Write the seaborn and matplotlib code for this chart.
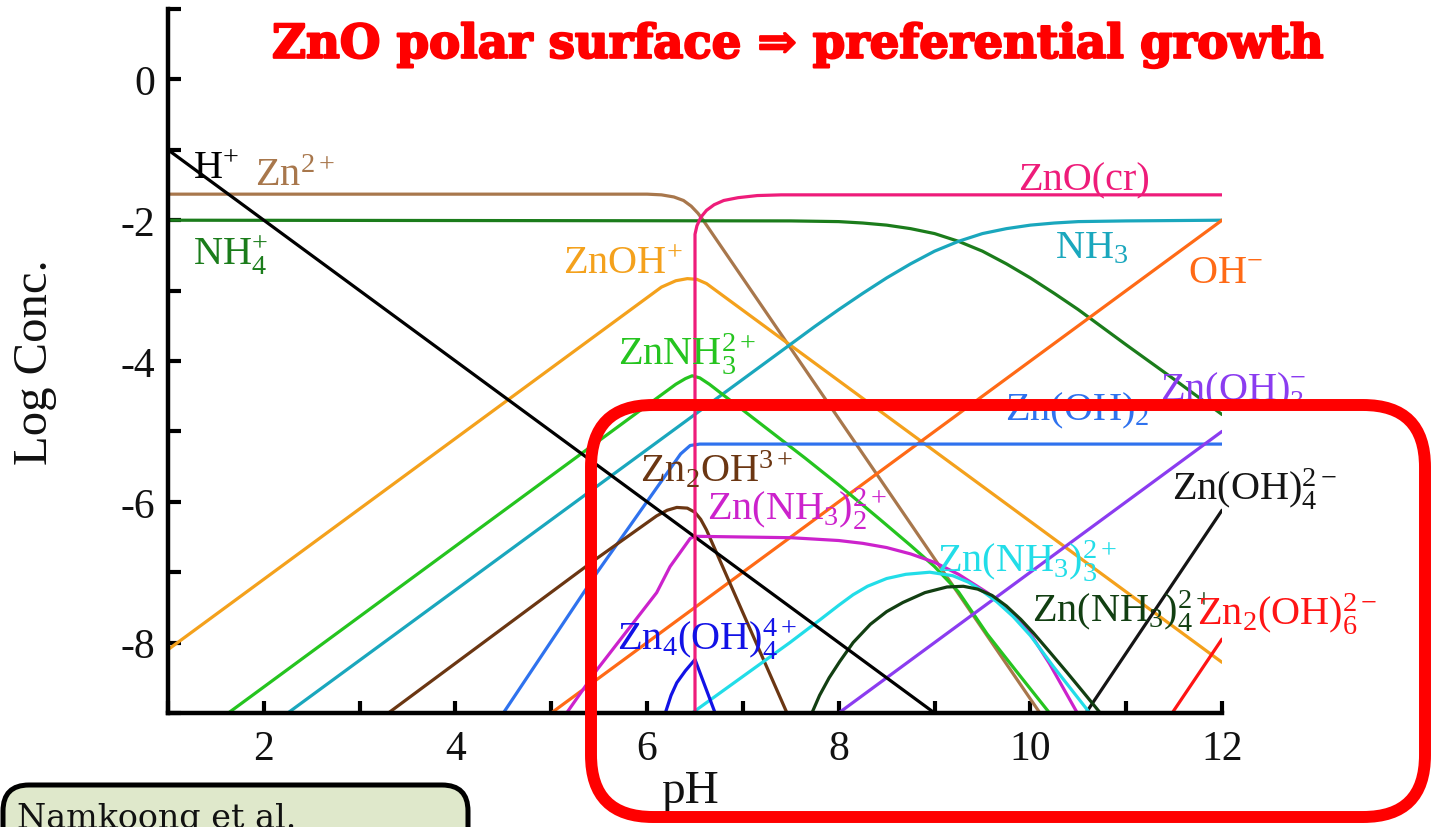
import numpy as np
import pandas as pd
import matplotlib
matplotlib.use("Agg")
import matplotlib.pyplot as plt
import matplotlib.patheffects as pe
import seaborn as sns
from matplotlib.patches import FancyBboxPatch
from matplotlib.transforms import IdentityTransform

# ---------------- data ----------------
ph_H = [1.0, 9.0]
lc_H = [-1.0, -9.0]
ph_Zn = [1.0, 6.0, 6.15, 6.28, 6.38, 6.46, 6.53, 6.58, 10.1]
lc_Zn = [-1.63, -1.63, -1.64, -1.67, -1.72, -1.80, -1.90, -1.99, -9.0]
ph_NH4 = [1.0, 7.5, 8.0, 8.25, 8.5, 8.75, 9.0, 9.25, 9.5, 9.75, 10.0, 10.25, 10.5, 11.0, 11.5, 12.0]
lc_NH4 = [-2.0, -2.01, -2.02, -2.04, -2.07, -2.12, -2.19, -2.30, -2.44, -2.62, -2.82, -3.04, -3.27, -3.77, -4.26, -4.76]
ph_NH3 = [2.25, 7.5, 7.75, 8.0, 8.25, 8.5, 8.75, 9.0, 9.25, 9.5, 9.75, 10.0, 10.25, 10.5, 11.0, 12.0]
lc_NH3 = [-9.0, -3.76, -3.51, -3.27, -3.04, -2.82, -2.62, -2.44, -2.30, -2.19, -2.12, -2.07, -2.04, -2.02, -2.01, -2.0]
ph_OH = [5.0, 12.0]
lc_OH = [-9.0, -2.0]
ph_ZnO = [6.5, 6.5, 6.52, 6.56, 6.62, 6.7, 6.8, 6.95, 7.15, 7.4, 12.0]
lc_ZnO = [-9.0, -2.2, -2.08, -1.96, -1.86, -1.78, -1.72, -1.68, -1.65, -1.64, -1.64]
ph_ZnOH = [1.0, 6.15, 6.3, 6.42, 6.52, 6.62, 6.7, 12.0]
lc_ZnOH = [-8.1, -2.95, -2.86, -2.83, -2.84, -2.9, -2.98, -8.28]
ph_ZnNH3 = [1.63, 6.3, 6.4, 6.47, 6.55, 6.65, 7.65, 8.0, 8.43, 8.75, 9.0, 9.25, 9.55, 9.85, 10.2]
lc_ZnNH3 = [-9.0, -4.33, -4.25, -4.21, -4.24, -4.33, -5.38, -5.76, -6.25, -6.62, -6.92, -7.28, -7.88, -8.4, -9.0]
ph_ZnOH2 = [4.5, 5.48, 6.35, 6.45, 6.55, 12.0]
lc_ZnOH2 = [-9.0, -7.0, -5.32, -5.2, -5.18, -5.18]
ph_ZnOH3 = [8.0, 12.0]
lc_ZnOH3 = [-9.0, -5.0]
ph_ZnOH4 = [10.58, 12.0]
lc_ZnOH4 = [-9.0, -6.12]
ph_Zn2OH6 = [11.48, 12.0]
lc_Zn2OH6 = [-9.0, -7.95]
ph_Zn4OH4 = [6.19, 6.25, 6.31, 6.4, 6.5, 6.71]
lc_Zn4OH4 = [-9.0, -8.75, -8.57, -8.4, -8.24, -9.0]
ph_Zn2OH = [3.3, 5.48, 6.1, 6.21, 6.31, 6.42, 6.5, 6.56, 6.62, 7.46]
lc_Zn2OH = [-9.0, -6.8, -6.2, -6.12, -6.08, -6.09, -6.15, -6.25, -6.4, -9.0]
ph_ZnNH3_2 = [5.16, 5.48, 6.1, 6.24, 6.45, 6.5, 7.5, 8.0, 8.25, 8.5, 8.75, 9.0, 9.25, 9.55, 9.75, 9.97, 10.2, 10.49]
lc_ZnNH3_2 = [-9.0, -8.38, -7.29, -6.92, -6.52, -6.49, -6.51, -6.55, -6.59, -6.65, -6.74, -6.86, -7.03, -7.29, -7.52, -7.81, -8.3, -9.0]
ph_ZnNH3_3 = [6.47, 7.49, 7.81, 8.0, 8.15, 8.3, 8.5, 8.7, 8.95, 9.19, 9.35, 9.47, 9.65, 9.82, 10.0, 10.24, 10.62]
lc_ZnNH3_3 = [-9.0, -8.0, -7.67, -7.47, -7.32, -7.2, -7.09, -7.03, -7.0, -7.05, -7.14, -7.24, -7.42, -7.63, -7.9, -8.34, -9.0]
ph_ZnNH3_4 = [7.72, 7.8, 7.9, 8.01, 8.15, 8.33, 8.5, 8.67, 8.9, 9.13, 9.3, 9.45, 9.6, 9.75, 9.9, 10.03, 10.2, 10.38, 10.55, 10.73]
lc_ZnNH3_4 = [-9.0, -8.75, -8.5, -8.27, -8.0, -7.74, -7.56, -7.43, -7.29, -7.21, -7.2, -7.24, -7.33, -7.48, -7.67, -7.86, -8.13, -8.42, -8.7, -9.0]

x_ticks = list(range(1, 13))
x_tick_labels = ["", "2", "", "4", "", "6", "", "8", "", "10", "", "12"]
y_ticks = list(range(-9, 2))
y_tick_labels = ["", "-8", "", "-6", "", "-4", "", "-2", "", "0", ""]

species = [
    ("Zn2+", ph_Zn, lc_Zn, "#a8774c"),
    ("NH4+", ph_NH4, lc_NH4, "#1b7c1b"),
    ("ZnOH+", ph_ZnOH, lc_ZnOH, "#f4a11c"),
    ("NH3", ph_NH3, lc_NH3, "#1aa7bd"),
    ("OH-", ph_OH, lc_OH, "#ff6a16"),
    ("ZnNH3", ph_ZnNH3, lc_ZnNH3, "#25c41f"),
    ("Zn(OH)2", ph_ZnOH2, lc_ZnOH2, "#2f72ee"),
    ("Zn(OH)3", ph_ZnOH3, lc_ZnOH3, "#8b3cf0"),
    ("Zn(OH)4", ph_ZnOH4, lc_ZnOH4, "#151515"),
    ("Zn2(OH)6", ph_Zn2OH6, lc_Zn2OH6, "#ff1414"),
    ("Zn2OH", ph_Zn2OH, lc_Zn2OH, "#6b3612"),
    ("Zn(NH3)2", ph_ZnNH3_2, lc_ZnNH3_2, "#cc22cc"),
    ("Zn(NH3)3", ph_ZnNH3_3, lc_ZnNH3_3, "#22dde8"),
    ("Zn(NH3)4", ph_ZnNH3_4, lc_ZnNH3_4, "#123f12"),
    ("Zn4(OH)4", ph_Zn4OH4, lc_Zn4OH4, "#1212e6"),
    ("H+", ph_H, lc_H, "#000000"),
    ("ZnO(cr)", ph_ZnO, lc_ZnO, "#ee1c7a"),
]

rows = []
for name, xs, ys, _ in species:
    for x, y in zip(xs, ys):
        rows.append({"species": name, "pH": x, "logC": y})
df = pd.DataFrame(rows)
palette = {name: c for name, _, _, c in species}
hue_order = [name for name, _, _, _ in species]

# ---------------- style ----------------
sns.set_theme(style="ticks")
plt.rcParams["font.family"] = ["Liberation Serif", "STIXGeneral", "DejaVu Serif"]
plt.rcParams["mathtext.fontset"] = "custom"
plt.rcParams["mathtext.rm"] = "Liberation Serif"
plt.rcParams["mathtext.it"] = "Liberation Serif:italic"
plt.rcParams["mathtext.bf"] = "Liberation Serif:bold"
plt.rcParams["axes.unicode_minus"] = False

W, H = 1436, 828
fig = plt.figure(figsize=(W / 100, H / 100), dpi=100)
fig.patch.set_facecolor("white")
ax = fig.add_axes([168 / W, (H - 714) / H, 1054 / W, 704 / H])
ax.set_facecolor("white")

sns.lineplot(data=df, x="pH", y="logC", hue="species", hue_order=hue_order,
             palette=palette, estimator=None, sort=False, units="species",
             legend=False, linewidth=2.3, ax=ax)

ax.set_xlim(1, 12)
ax.set_ylim(-9, 1)
ax.set_xticks(x_ticks)
ax.set_xticklabels(x_tick_labels)
ax.set_yticks(y_ticks)
ax.set_yticklabels(y_tick_labels)
ax.tick_params(axis="both", direction="in", length=9, width=3, color="black",
               labelsize=30, labelcolor="#111111")
ax.tick_params(axis="x", pad=12)
ax.tick_params(axis="y", pad=9)
for s in ["top", "right"]:
    ax.spines[s].set_visible(False)
for s in ["left", "bottom"]:
    ax.spines[s].set_linewidth(3.2)
    ax.spines[s].set_color("black")

ax.set_xlabel("pH", fontsize=34, color="#111111")
ax.xaxis.label.set_va("center")
ax.xaxis.set_label_coords((690 - 168) / 1054, (714 - 792) / 704)
ax.set_ylabel("Log Conc.", fontsize=35, color="#111111")
ax.yaxis.label.set_va("center")
ax.yaxis.set_label_coords((35 - 168) / 1054, 0.5)

# species labels (text, colour, pH, logC of baseline-left)
labels = [
    (r"H$^{+}$", "#000000", 1.26, -1.40),
    (r"Zn$^{2+}$", "#a8774c", 1.91, -1.50),
    (r"NH$_4^{+}$", "#1b7c1b", 1.26, -2.63),
    (r"ZnOH$^{+}$", "#f4a11c", 5.12, -2.75),
    (r"ZnO(cr)", "#ee1c7a", 9.87, -1.56),
    (r"NH$_3$", "#1aa7bd", 10.26, -2.53),
    (r"OH$^{-}$", "#ff6a16", 11.65, -2.88),
    (r"ZnNH$_3^{2+}$", "#25c41f", 5.70, -4.05),
    (r"Zn(OH)$_2$", "#2f72ee", 9.74, -4.83),
    (r"Zn(OH)$_3^{-}$", "#8b3cf0", 11.35, -4.55),
    (r"Zn$_2$OH$^{3+}$", "#6b3612", 5.93, -5.71),
    (r"Zn(NH$_3$)$_2^{2+}$", "#cc22cc", 6.63, -6.25),
    (r"Zn(NH$_3$)$_3^{2+}$", "#22dde8", 9.03, -6.99),
    (r"Zn(NH$_3$)$_4^{2+}$", "#123f12", 10.02, -7.70),
    (r"Zn$_2$(OH)$_6^{2-}$", "#ff1414", 11.74, -7.74),
    (r"Zn$_4$(OH)$_4^{4+}$", "#1212e6", 5.69, -8.10),
    (r"Zn(OH)$_4^{2-}$", "#151515", 11.48, -5.97),
]
for txt, c, x, y in labels:
    ax.text(x, y, txt, color=c, fontsize=29, ha="left", va="baseline",
            clip_on=False, zorder=5)

# title
fig.text(798 / W, 1 - 46 / H, "ZnO polar surface \u21d2 preferential growth",
         ha="center", va="center", fontsize=33.5, fontweight="bold",
         family="DejaVu Serif", color="#ff0000",
         path_effects=[pe.withStroke(linewidth=1.6, foreground="#ff0000")])

# red highlight box (pixel coordinates)
box = FancyBboxPatch((591, 10), 1425 - 591, 422 - 10,
                     boxstyle="round,pad=0,rounding_size=62",
                     facecolor="none", edgecolor="#ff0000", linewidth=8.6,
                     transform=IdentityTransform(), zorder=10)
fig.add_artist(box)

# reference box bottom-left
ref = FancyBboxPatch((3, -60), 465, 102,
                     boxstyle="round,pad=0,rounding_size=26",
                     facecolor="#dfe8cb", edgecolor="#000000", linewidth=3.6,
                     transform=IdentityTransform(), zorder=10)
fig.add_artist(ref)
fig.text(17 / W, 0 / H, "Namkoong et al.", ha="left", va="baseline",
         fontsize=24, family="DejaVu Serif", color="#111111", zorder=11)

fig.savefig("out.png", dpi=100, facecolor="white")
